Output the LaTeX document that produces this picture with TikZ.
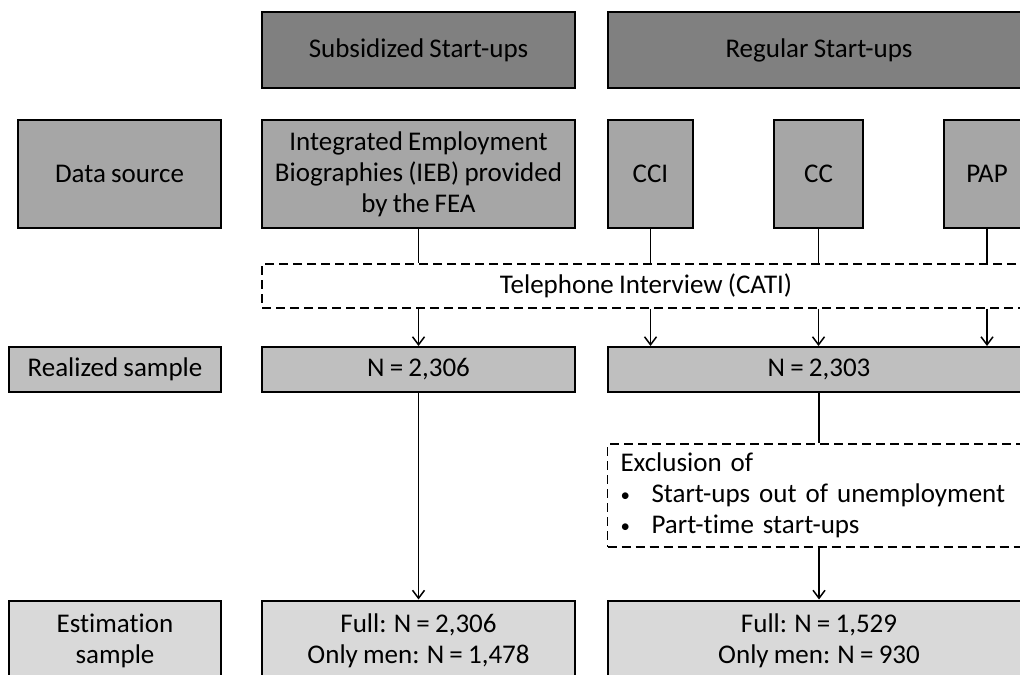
\documentclass[tikz,border=0pt]{standalone}
\usepackage{fontspec}
\setmainfont[Ligatures=NoCommon,WordSpace=0.85]{Carlito}
\usepackage{tikz}
\usetikzlibrary{arrows.meta}
\definecolor{hdrgray}{HTML}{808080}
\definecolor{srcgray}{HTML}{A6A6A6}
\definecolor{realgray}{HTML}{BFBFBF}
\definecolor{estgray}{HTML}{D9D9D9}
\newcommand{\smallbul}{\makebox[15.5pt][l]{\raisebox{0.6pt}{\scalebox{0.7}{\textbullet}}}}

\begin{document}
\begin{tikzpicture}[x=0.5pt,y=-0.5pt,
		font=\fontsize{13.5}{15.5}\selectfont,
		box/.style={draw=black,line width=1pt,inner sep=2pt,align=center},
		dbox/.style={draw=black,dash pattern=on 4.5pt off 2.5pt,line width=0.75pt},
		link/.style={line width=0.75pt},
		arr/.style={link,-{Straight Barb[length=4pt,width=6pt]}}]
		\useasboundingbox (0,0) rectangle (1020,674);
		\clip (0,0) rectangle (1020,674);
		% groups
		\node[box,fill=hdrgray,minimum width=156.5pt,minimum height=38pt] (sub) at (418.5,50) {Subsidized Start-ups};
		\node[box,fill=hdrgray,minimum width=211pt,minimum height=38pt] (reg) at (819,50) {Regular Start-ups};
		% data sources
		\node[box,fill=srcgray,minimum width=101.5pt,minimum height=54pt] (src) at (119.5,174) {Data source};
		\node[box,fill=srcgray,minimum width=156.5pt,minimum height=54pt] (ieb) at (418.5,174) {Integrated Employment\\Biographies (IEB) provided\\by the FEA};
		\node[box,fill=srcgray,minimum width=42.5pt,minimum height=54pt] (cci) at (650.5,174) {CCI};
		\node[box,fill=srcgray,minimum width=44.5pt,minimum height=54pt] (cc) at (818.5,174) {CC};
		\node[box,fill=srcgray,minimum width=43pt,minimum height=54pt] (pap) at (987,174) {PAP};
		\node[dbox,minimum width=384pt,minimum height=22pt] (tel) at (646,286) {Telephone Interview (CATI)};
		% realized sample
		\node[box,fill=realgray,minimum width=106pt,minimum height=22.5pt] (real) at (115,369.5) {Realized sample};
		\node[box,fill=realgray,minimum width=156.5pt,minimum height=22.5pt] (nsub) at (418.5,369.5) {N = 2,306};
		\node[box,fill=realgray,minimum width=211pt,minimum height=22.5pt] (nreg) at (819,369.5) {N = 2,303};
		\node[dbox,text width=198.5pt,minimum height=51.5pt,inner xsep=6.5pt,inner ysep=2pt,align=left] (excl) at (819,495.5)
			{Exclusion of\\\smallbul Start-ups out of unemployment\\\smallbul Part-time start-ups};
		% estimation sample
		\node[box,fill=estgray,minimum width=106pt,minimum height=40pt] (est) at (115,640.5) {Estimation\\sample};
		\node[box,fill=estgray,minimum width=156.5pt,minimum height=40pt] (fsub) at (418.5,640.5) {Full: N = 2,306\\Only men: N = 1,478};
		\node[box,fill=estgray,minimum width=211pt,minimum height=40pt] (freg) at (819,640.5) {Full: N = 1,529\\Only men: N = 930};
		% connectors
		\draw[link] (ieb) -- (ieb |- tel.north);
		\draw[link] (cci) -- (cci |- tel.north);
		\draw[link] (cc) -- (cc |- tel.north);
		\draw[link] (pap) -- (pap |- tel.north);
		\draw[arr] (ieb |- tel.south) -- (nsub);
		\draw[arr] (cci |- tel.south) -- (cci |- nreg.north);
		\draw[arr] (cc |- tel.south) -- (cc |- nreg.north);
		\draw[arr] (pap |- tel.south) -- (pap |- nreg.north);
		\draw[arr] (nsub) -- (fsub);
		\draw[link] (nreg) -- (excl);
		\draw[arr] (excl) -- (freg);
	\end{tikzpicture}
\end{document}
